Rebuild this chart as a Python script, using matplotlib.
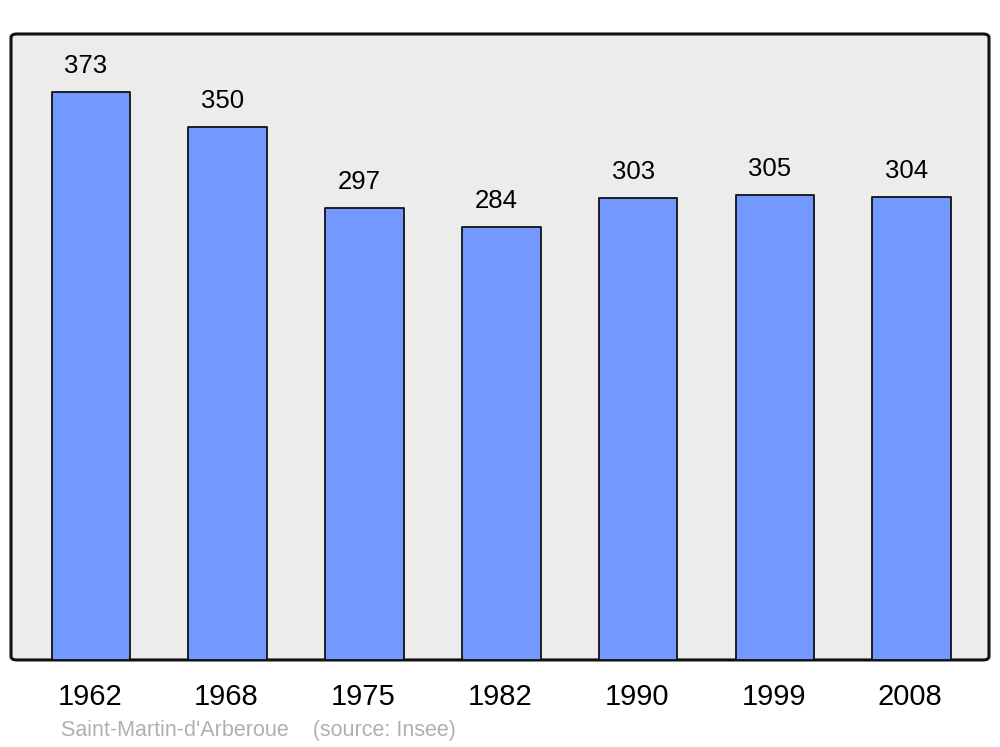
import matplotlib
matplotlib.use("Agg")
import matplotlib.pyplot as plt
from matplotlib.patches import FancyBboxPatch

years = ["1962", "1968", "1975", "1982", "1990", "1999", "2008"]
population = [373, 350, 297, 284, 303, 305, 304]
source_note = "Saint-Martin-d'Arberoue    (source: Insee)"

plt.rcParams['font.family'] = ['Liberation Sans', 'DejaVu Sans']

fig = plt.figure(figsize=(10, 7.47), dpi=100)
ax = fig.add_axes([0.011, 0.1165, 0.978, 0.838])
ax.set_facecolor('none')

# rounded grey frame behind everything
frame = FancyBboxPatch((0, 0), 1, 1, boxstyle="round,pad=0,rounding_size=0.006",
                       transform=ax.transAxes, facecolor='#ececec',
                       edgecolor='#111111', linewidth=2.2, clip_on=False, zorder=0)
ax.add_patch(frame)

x = list(range(len(years)))
ax.bar(x, population, width=0.575, color='#7399ff', edgecolor='#111111',
       linewidth=1.3, zorder=2, joinstyle='round')

for xi, v in zip(x, population):
    ax.annotate(str(v), (xi, v), xytext=(-3.6, 18.8), textcoords='offset points',
                ha='center', va='center', fontsize=18.5, color='#000000')
    ax.annotate(years[xi], (xi, 0), xycoords=('data', 'axes fraction'),
                xytext=(-1, -27), textcoords='offset points',
                ha='center', va='center', fontsize=21, color='#000000')

ax.set_xlim(-0.585, 6.565)
ax.set_ylim(0, 411)
ax.set_xticks([])
ax.set_yticks([])
for s in ax.spines.values():
    s.set_visible(False)

fig.text(0.061, 1 - 730.5 / 747, source_note, ha='left', va='center',
         fontsize=15.5, color='#b0b0b0')

fig.savefig('out.png', dpi=100)
